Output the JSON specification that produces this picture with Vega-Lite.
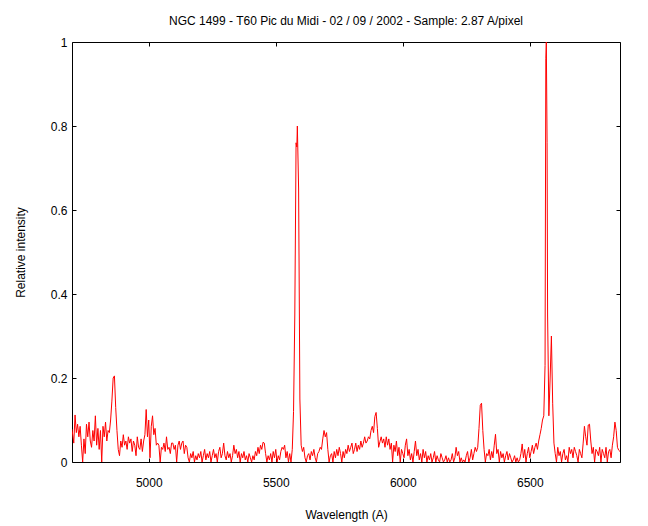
{
  "$schema": "https://vega.github.io/schema/vega-lite/v6.json",
  "width": 548,
  "height": 420,
  "autosize": {"type": "none"},
  "padding": {"left": 72, "top": 42, "right": 28, "bottom": 64},
  "background": "white",
  "title": {"text": "NGC 1499 - T60 Pic du Midi - 02 / 09 / 2002 - Sample: 2.87 A/pixel", "fontSize": 12, "fontWeight": "normal", "font": "Liberation Sans", "color": "black", "baseline": "alphabetic", "offset": -1, "anchor": "middle"},
  "config": {
    "view": {"stroke": "black", "strokeWidth": 1},
    "axis": {"grid": false, "domain": false, "tickColor": "black", "tickWidth": 1, "labelFont": "Liberation Sans", "labelFontSize": 12, "labelColor": "black", "titleFont": "Liberation Sans", "titleFontSize": 12, "titleFontWeight": "normal", "titleColor": "black"}
  },
  "data": {"values": [
    {"w":4698,"i":0.078},{"w":4705,"i":0.045},{"w":4710,"i":0.112},{"w":4715,"i":0.07},{"w":4720,"i":0.09},{"w":4725,"i":0.06},{"w":4730,"i":0.085},{"w":4735,"i":0.04},{"w":4740,"i":0.0},{"w":4745,"i":0.055},
    {"w":4750,"i":0.02},{"w":4755,"i":0.09},{"w":4760,"i":0.06},{"w":4765,"i":0.095},{"w":4770,"i":0.05},{"w":4775,"i":0.035},{"w":4780,"i":0.075},{"w":4785,"i":0.05},{"w":4790,"i":0.11},{"w":4795,"i":0.04},
    {"w":4800,"i":0.08},{"w":4805,"i":0.03},{"w":4810,"i":0.075},{"w":4815,"i":0.0},{"w":4820,"i":0.085},{"w":4825,"i":0.06},{"w":4830,"i":0.095},{"w":4835,"i":0.05},{"w":4840,"i":0.075},{"w":4845,"i":0.07},
    {"w":4850,"i":0.1},{"w":4855,"i":0.145},{"w":4860,"i":0.2},{"w":4865,"i":0.205},{"w":4870,"i":0.13},{"w":4875,"i":0.075},{"w":4880,"i":0.03},{"w":4885,"i":0.015},{"w":4890,"i":0.05},{"w":4895,"i":0.035},
    {"w":4900,"i":0.065},{"w":4905,"i":0.04},{"w":4910,"i":0.05},{"w":4915,"i":0.03},{"w":4920,"i":0.06},{"w":4925,"i":0.045},{"w":4930,"i":0.055},{"w":4935,"i":0.025},{"w":4940,"i":0.05},{"w":4945,"i":0.04},
    {"w":4950,"i":0.015},{"w":4955,"i":0.06},{"w":4960,"i":0.035},{"w":4965,"i":0.03},{"w":4970,"i":0.055},{"w":4975,"i":0.025},{"w":4980,"i":0.05},{"w":4985,"i":0.065},{"w":4990,"i":0.125},{"w":4995,"i":0.06},
    {"w":5000,"i":0.1},{"w":5005,"i":0.01},{"w":5010,"i":0.085},{"w":5015,"i":0.11},{"w":5020,"i":0.065},{"w":5025,"i":0.08},{"w":5030,"i":0.04},{"w":5035,"i":0.045},{"w":5040,"i":0.04},{"w":5045,"i":0.0},
    {"w":5050,"i":0.035},{"w":5055,"i":0.03},{"w":5060,"i":0.045},{"w":5065,"i":0.025},{"w":5070,"i":0.06},{"w":5075,"i":0.03},{"w":5080,"i":0.035},{"w":5085,"i":0.02},{"w":5090,"i":0.045},{"w":5095,"i":0.045},
    {"w":5100,"i":0.03},{"w":5105,"i":0.04},{"w":5110,"i":0.0},{"w":5115,"i":0.04},{"w":5120,"i":0.05},{"w":5125,"i":0.03},{"w":5130,"i":0.045},{"w":5135,"i":0.05},{"w":5140,"i":0.02},{"w":5145,"i":0.04},
    {"w":5150,"i":0.035},{"w":5155,"i":0.01},{"w":5160,"i":0.0},{"w":5165,"i":0.02},{"w":5170,"i":0.01},{"w":5175,"i":0.025},{"w":5180,"i":0.0},{"w":5185,"i":0.015},{"w":5190,"i":0.005},{"w":5195,"i":0.02},
    {"w":5200,"i":0.01},{"w":5205,"i":0.025},{"w":5210,"i":0.0},{"w":5215,"i":0.015},{"w":5220,"i":0.03},{"w":5225,"i":0.005},{"w":5230,"i":0.02},{"w":5235,"i":0.01},{"w":5240,"i":0.025},{"w":5245,"i":0.0},
    {"w":5250,"i":0.015},{"w":5255,"i":0.03},{"w":5260,"i":0.01},{"w":5265,"i":0.02},{"w":5270,"i":0.0},{"w":5275,"i":0.025},{"w":5280,"i":0.035},{"w":5285,"i":0.01},{"w":5290,"i":0.02},{"w":5295,"i":0.045},
    {"w":5300,"i":0.015},{"w":5305,"i":0.005},{"w":5310,"i":0.025},{"w":5315,"i":0.01},{"w":5320,"i":0.02},{"w":5325,"i":0.0},{"w":5330,"i":0.015},{"w":5335,"i":0.04},{"w":5340,"i":0.02},{"w":5345,"i":0.03},
    {"w":5350,"i":0.01},{"w":5355,"i":0.025},{"w":5360,"i":0.0},{"w":5365,"i":0.02},{"w":5370,"i":0.01},{"w":5375,"i":0.025},{"w":5380,"i":0.005},{"w":5385,"i":0.015},{"w":5390,"i":0.0},{"w":5395,"i":0.02},
    {"w":5400,"i":0.01},{"w":5405,"i":0.0},{"w":5410,"i":0.015},{"w":5415,"i":0.005},{"w":5420,"i":0.025},{"w":5425,"i":0.015},{"w":5430,"i":0.035},{"w":5435,"i":0.02},{"w":5440,"i":0.04},{"w":5445,"i":0.03},
    {"w":5450,"i":0.047},{"w":5455,"i":0.045},{"w":5460,"i":0.02},{"w":5465,"i":0.0},{"w":5470,"i":0.015},{"w":5475,"i":0.005},{"w":5480,"i":0.02},{"w":5485,"i":0.0},{"w":5490,"i":0.025},{"w":5495,"i":0.01},
    {"w":5500,"i":0.03},{"w":5505,"i":0.0},{"w":5510,"i":0.015},{"w":5515,"i":0.005},{"w":5520,"i":0.025},{"w":5525,"i":0.035},{"w":5530,"i":0.03},{"w":5535,"i":0.04},{"w":5540,"i":0.01},{"w":5545,"i":0.025},
    {"w":5550,"i":0.0},{"w":5555,"i":0.02},{"w":5560,"i":0.0},{"w":5565,"i":0.03},{"w":5570,"i":0.12},{"w":5575,"i":0.35},{"w":5580,"i":0.76},{"w":5583,"i":0.75},{"w":5585,"i":0.8},{"w":5590,"i":0.65},{"w":5595,"i":0.15},
    {"w":5600,"i":0.04},{"w":5605,"i":0.025},{"w":5610,"i":0.035},{"w":5615,"i":0.01},{"w":5620,"i":0.0},{"w":5625,"i":0.015},{"w":5630,"i":0.02},{"w":5635,"i":0.005},{"w":5640,"i":0.025},{"w":5645,"i":0.015},
    {"w":5650,"i":0.03},{"w":5655,"i":0.01},{"w":5660,"i":0.0},{"w":5665,"i":0.02},{"w":5670,"i":0.025},{"w":5675,"i":0.035},{"w":5680,"i":0.03},{"w":5685,"i":0.055},{"w":5690,"i":0.075},{"w":5695,"i":0.06},
    {"w":5700,"i":0.07},{"w":5705,"i":0.03},{"w":5710,"i":0.0},{"w":5715,"i":0.015},{"w":5720,"i":0.02},{"w":5725,"i":0.0},{"w":5730,"i":0.025},{"w":5735,"i":0.01},{"w":5740,"i":0.03},{"w":5745,"i":0.015},
    {"w":5750,"i":0.035},{"w":5755,"i":0.02},{"w":5760,"i":0.0},{"w":5765,"i":0.025},{"w":5770,"i":0.01},{"w":5775,"i":0.03},{"w":5780,"i":0.02},{"w":5785,"i":0.04},{"w":5790,"i":0.025},{"w":5795,"i":0.035},
    {"w":5800,"i":0.045},{"w":5805,"i":0.02},{"w":5810,"i":0.03},{"w":5815,"i":0.045},{"w":5820,"i":0.025},{"w":5825,"i":0.04},{"w":5830,"i":0.03},{"w":5835,"i":0.05},{"w":5840,"i":0.035},{"w":5845,"i":0.045},
    {"w":5850,"i":0.06},{"w":5855,"i":0.045},{"w":5860,"i":0.05},{"w":5865,"i":0.06},{"w":5870,"i":0.055},{"w":5875,"i":0.075},{"w":5880,"i":0.085},{"w":5885,"i":0.07},{"w":5890,"i":0.108},{"w":5895,"i":0.118},
    {"w":5900,"i":0.08},{"w":5905,"i":0.035},{"w":5910,"i":0.048},{"w":5915,"i":0.06},{"w":5920,"i":0.045},{"w":5925,"i":0.055},{"w":5930,"i":0.035},{"w":5935,"i":0.06},{"w":5940,"i":0.04},{"w":5945,"i":0.055},
    {"w":5950,"i":0.03},{"w":5955,"i":0.045},{"w":5960,"i":0.0},{"w":5965,"i":0.04},{"w":5970,"i":0.025},{"w":5975,"i":0.05},{"w":5980,"i":0.015},{"w":5985,"i":0.035},{"w":5990,"i":0.0},{"w":5995,"i":0.03},
    {"w":6000,"i":0.02},{"w":6005,"i":0.01},{"w":6010,"i":0.04},{"w":6015,"i":0.055},{"w":6020,"i":0.015},{"w":6025,"i":0.03},{"w":6030,"i":0.005},{"w":6035,"i":0.02},{"w":6040,"i":0.0},{"w":6045,"i":0.025},
    {"w":6050,"i":0.05},{"w":6055,"i":0.015},{"w":6060,"i":0.03},{"w":6065,"i":0.005},{"w":6070,"i":0.02},{"w":6075,"i":0.0},{"w":6080,"i":0.03},{"w":6085,"i":0.01},{"w":6090,"i":0.025},{"w":6095,"i":0.0},
    {"w":6100,"i":0.015},{"w":6105,"i":0.005},{"w":6110,"i":0.02},{"w":6115,"i":0.0},{"w":6120,"i":0.01},{"w":6125,"i":0.025},{"w":6130,"i":0.0},{"w":6135,"i":0.015},{"w":6140,"i":0.005},{"w":6145,"i":0.0},
    {"w":6150,"i":0.02},{"w":6155,"i":0.01},{"w":6160,"i":0.0},{"w":6165,"i":0.005},{"w":6170,"i":0.015},{"w":6175,"i":0.0},{"w":6180,"i":0.01},{"w":6185,"i":0.0},{"w":6190,"i":0.005},{"w":6195,"i":0.02},
    {"w":6200,"i":0.0},{"w":6205,"i":0.01},{"w":6210,"i":0.035},{"w":6215,"i":0.015},{"w":6220,"i":0.025},{"w":6225,"i":0.0},{"w":6230,"i":0.01},{"w":6235,"i":0.0},{"w":6240,"i":0.005},{"w":6245,"i":0.0},
    {"w":6250,"i":0.015},{"w":6255,"i":0.025},{"w":6260,"i":0.0},{"w":6265,"i":0.01},{"w":6270,"i":0.03},{"w":6275,"i":0.005},{"w":6280,"i":0.02},{"w":6285,"i":0.035},{"w":6290,"i":0.025},{"w":6295,"i":0.035},
    {"w":6300,"i":0.08},{"w":6305,"i":0.135},{"w":6310,"i":0.14},{"w":6315,"i":0.075},{"w":6320,"i":0.03},{"w":6325,"i":0.0},{"w":6330,"i":0.02},{"w":6335,"i":0.015},{"w":6340,"i":0.03},{"w":6345,"i":0.005},
    {"w":6350,"i":0.025},{"w":6355,"i":0.01},{"w":6360,"i":0.04},{"w":6365,"i":0.066},{"w":6370,"i":0.02},{"w":6375,"i":0.03},{"w":6380,"i":0.0},{"w":6385,"i":0.025},{"w":6390,"i":0.01},{"w":6395,"i":0.02},
    {"w":6400,"i":0.0},{"w":6405,"i":0.015},{"w":6410,"i":0.025},{"w":6415,"i":0.005},{"w":6420,"i":0.02},{"w":6425,"i":0.01},{"w":6430,"i":0.0},{"w":6435,"i":0.005},{"w":6440,"i":0.015},{"w":6445,"i":0.0},
    {"w":6450,"i":0.01},{"w":6455,"i":0.0},{"w":6460,"i":0.005},{"w":6465,"i":0.02},{"w":6470,"i":0.043},{"w":6475,"i":0.01},{"w":6480,"i":0.03},{"w":6485,"i":0.0},{"w":6490,"i":0.02},{"w":6495,"i":0.035},
    {"w":6500,"i":0.01},{"w":6505,"i":0.025},{"w":6510,"i":0.04},{"w":6515,"i":0.02},{"w":6520,"i":0.035},{"w":6525,"i":0.045},{"w":6530,"i":0.03},{"w":6535,"i":0.05},{"w":6540,"i":0.065},{"w":6545,"i":0.08},
    {"w":6550,"i":0.1},{"w":6555,"i":0.11},{"w":6560,"i":0.23},{"w":6563,"i":0.96},{"w":6565,"i":1.0},{"w":6568,"i":0.76},{"w":6570,"i":0.35},{"w":6575,"i":0.11},{"w":6580,"i":0.2},{"w":6585,"i":0.3},{"w":6590,"i":0.14},{"w":6595,"i":0.045},
    {"w":6600,"i":0.02},{"w":6605,"i":0.0},{"w":6610,"i":0.035},{"w":6615,"i":0.015},{"w":6620,"i":0.025},{"w":6625,"i":0.0},{"w":6630,"i":0.02},{"w":6635,"i":0.03},{"w":6640,"i":0.005},{"w":6645,"i":0.015},
    {"w":6650,"i":0.0},{"w":6655,"i":0.035},{"w":6660,"i":0.02},{"w":6665,"i":0.03},{"w":6670,"i":0.01},{"w":6675,"i":0.035},{"w":6680,"i":0.025},{"w":6685,"i":0.015},{"w":6690,"i":0.0},{"w":6695,"i":0.03},
    {"w":6700,"i":0.02},{"w":6705,"i":0.01},{"w":6710,"i":0.045},{"w":6715,"i":0.085},{"w":6720,"i":0.06},{"w":6725,"i":0.04},{"w":6730,"i":0.088},{"w":6735,"i":0.09},{"w":6740,"i":0.05},{"w":6745,"i":0.02},
    {"w":6750,"i":0.035},{"w":6755,"i":0.0},{"w":6760,"i":0.03},{"w":6765,"i":0.025},{"w":6770,"i":0.015},{"w":6775,"i":0.035},{"w":6780,"i":0.0},{"w":6785,"i":0.03},{"w":6790,"i":0.02},{"w":6795,"i":0.01},
    {"w":6800,"i":0.035},{"w":6805,"i":0.0},{"w":6810,"i":0.025},{"w":6815,"i":0.03},{"w":6820,"i":0.01},{"w":6825,"i":0.04},{"w":6830,"i":0.06},{"w":6835,"i":0.095},{"w":6840,"i":0.075},{"w":6845,"i":0.035},
    {"w":6850,"i":0.028},{"w":6855,"i":0.025}
  ]},
  "layer": [
    {
      "mark": {"type": "line", "color": "#ff0000", "strokeWidth": 1, "clip": true},
      "encoding": {
        "x": {"field": "w", "type": "quantitative", "scale": {"domain": [4698, 6855], "nice": false, "zero": false},
          "axis": {"orient": "bottom", "values": [5000, 5500, 6000, 6500], "format": "d", "tickSize": -4, "labelPadding": 19, "title": "Wavelength (A)", "titleX": 274, "titleY": 56, "titleBaseline": "alphabetic", "titleAlign": "center"}},
        "y": {"field": "i", "type": "quantitative", "scale": {"domain": [0, 1], "nice": false},
          "axis": {"orient": "left", "values": [0, 0.2, 0.4, 0.6, 0.8, 1], "format": "~g", "tickSize": -4, "labelPadding": 9, "title": "Relative intensity", "titleX": -52, "titleY": 210, "titleAngle": -90, "titleAlign": "center", "titleBaseline": "middle"}}
      }
    },
    {
      "mark": {"type": "line", "opacity": 0},
      "encoding": {
        "x": {"field": "w", "type": "quantitative", "scale": {"domain": [4698, 6855], "nice": false, "zero": false},
          "axis": {"orient": "top", "values": [5000, 5500, 6000, 6500], "labels": false, "tickSize": -4, "title": null}},
        "y": {"field": "i", "type": "quantitative", "scale": {"domain": [0, 1], "nice": false},
          "axis": {"orient": "right", "values": [0, 0.2, 0.4, 0.6, 0.8, 1], "labels": false, "tickSize": -4, "title": null}}
      }
    }
  ],
  "resolve": {"axis": {"x": "independent", "y": "independent"}}
}
